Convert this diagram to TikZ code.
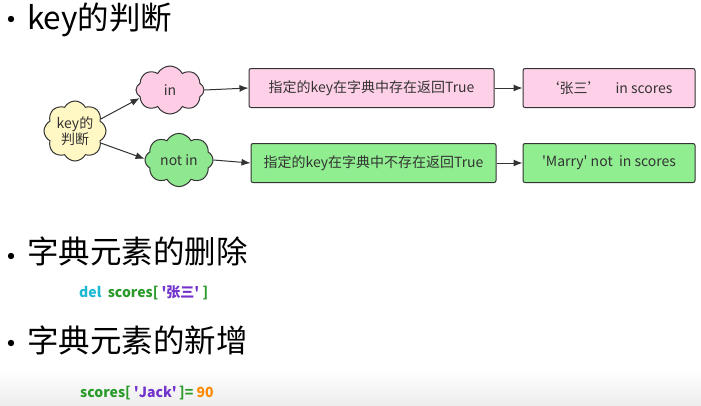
\documentclass[tikz,border=0pt]{standalone}
\usepackage{fontspec}
\setmainfont{Noto Sans CJK SC}
\usetikzlibrary{positioning, shapes.symbols, arrows.meta}
\definecolor{cloudyellow}{HTML}{FFF7C4}
\definecolor{cloudpink}{HTML}{FFCCE5}
\definecolor{cloudgreen}{HTML}{8FE88F}
\definecolor{boxpink}{HTML}{FFD1E8}
\definecolor{boxgreen}{HTML}{90EE90}
\definecolor{inkgray}{HTML}{333333}
\definecolor{delcyan}{HTML}{1CB8D2}
\definecolor{codegreen}{HTML}{2A9A2A}
\definecolor{codepurple}{HTML}{7232CC}
\definecolor{codeorange}{HTML}{FF8A00}
\tikzset{
  puff/.style={cloud, cloud puffs=8, cloud puff arc=125, aspect=1.2, draw=inkgray,
    line width=1pt, inner sep=0pt, text=inkgray, font=\fontsize{14}{15}\selectfont},
  result/.style={draw=inkgray, line width=1pt, rounded corners=2pt, minimum height=39pt,
    inner sep=0pt, text=inkgray, font=\fontsize{14}{16}\selectfont},
  link/.style={-{Latex[length=9pt,width=7pt]}, line width=1pt, inkgray},
  heading/.style={anchor=west, inner sep=0pt, font=\fontsize{31.5}{34}\selectfont},
  codeline/.style={anchor=west, inner sep=0pt, font=\bfseries\fontsize{14}{16}\selectfont}
}
\begin{document}
\begin{tikzpicture}[x=1pt, y=-1pt]
\useasboundingbox (0,0) rectangle (701,405);
\shade[top color=white, bottom color=black!7] (0,370) rectangle (701,405);

%headings
\fill (11,19) circle (3.2pt);
\node[heading] (judge) at (27,20) {key的判断};
\fill (11,256) circle (3.2pt);
\node[heading] (delete) at (27,251) {字典元素的删除};
\fill (11,343) circle (3.2pt);
\node[heading] (add) at (27,340) {字典元素的新增};

%clouds
\node[puff, fill=cloudyellow, minimum width=62pt, minimum height=60pt, align=center] (key) at (75,131) {key的\\判断};
\node[puff, fill=cloudpink, minimum width=68pt, minimum height=48pt] (in) at (170,90) {in};
\node[puff, fill=cloudgreen, minimum width=68pt, minimum height=48pt] (notin) at (179,160) {not in};

%boxes
\node[result, fill=boxpink, minimum width=245pt] (exist) at (371.5,88) {指定的key在字典中存在返回True};
\node[result, fill=boxpink, minimum width=172pt, right=28pt of exist] (zhang) {‘张三’\quad in scores};
\node[result, fill=boxgreen, minimum width=245pt] (absent) at (373.5,163) {指定的key在字典中不存在返回True};
\node[result, fill=boxgreen, minimum width=172pt, right=26pt of absent] (marry) {\textquotesingle Marry\textquotesingle\ not\ \ in scores};

\draw[link] (key.25) -- (in.195);
\draw[link] (key.-25) -- (notin.178);
\draw[link] (in.east) -- (exist.west);
\draw[link] (notin.east) -- (absent.west);
\draw[link] (exist) -- (zhang);
\draw[link] (absent) -- (marry);

%code
\node[codeline] (delcode) at (79,293) {\color{delcyan}del\ \ \color{codegreen}scores[ \color{codepurple}\textquotesingle 张三\textquotesingle\ \color{codegreen}]};
\node[codeline] (addcode) at (80,393) {\color{codegreen}scores[ \color{codepurple}\textquotesingle Jack\textquotesingle\,\color{codegreen}]= \color{codeorange}90};
\end{tikzpicture}
\end{document}
